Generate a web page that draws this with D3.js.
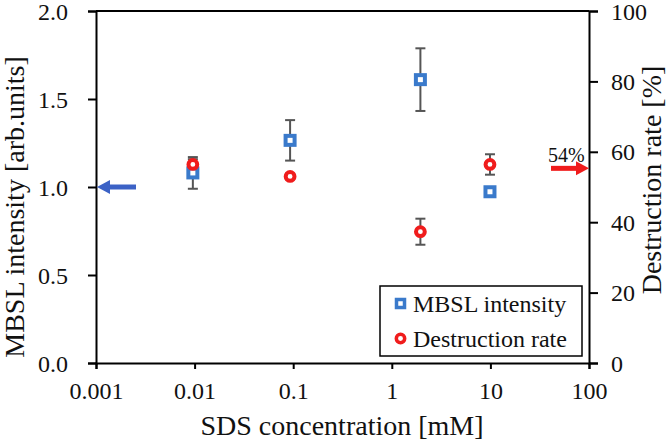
<!DOCTYPE html>
<html>
<head>
<meta charset="utf-8">
<script src="https://cdn.jsdelivr.net/npm/d3@7"></script>
<style>
  html, body { margin: 0; padding: 0; background: #fff; }
  svg { display: block; }
</style>
</head>
<body>
<svg id="chart" width="670" height="442" font-family="Liberation Serif"></svg>
<script>
// ---- data ----
const concentrations = [0.0096, 0.093, 1.95, 9.9];          // SDS concentration [mM]
const mbslIntensity = [1.08, 1.265, 1.61, 0.973];           // arb.units
const mbslError = [0.09, 0.115, 0.178, 0.01];
const destructionRate = [56.4, 53.0, 37.3, 56.4];           // %
const destructionError = [1.5, 0.8, 3.7, 2.9];
const xTicks = [0.001, 0.01, 0.1, 1, 10, 100];
const xTickLabels = ["0.001", "0.01", "0.1", "1", "10", "100"];
const yLeftTicks = [0, 0.5, 1.0, 1.5, 2.0];
const yRightTicks = [0, 20, 40, 60, 80, 100];
const referenceMBSL = 1.0;
const referenceDestruction = 55.3;
const referenceLabel = "54%";
const seriesNames = ["MBSL intensity", "Destruction rate"];

// ---- layout ----
const FONT = "Liberation Serif";
const svg = d3.select("#chart");
const L = 96, R = 589, T = 11, B = 363;
const blue = "#3a7acb", red = "#f01c1c", errColor = "#555";

const x = d3.scaleLog().domain([0.001, 100]).range([L, R]);
const yL = d3.scaleLinear().domain([0, 2]).range([B, T]);
const yR = d3.scaleLinear().domain([0, 100]).range([B, T]);

// frame top line
svg.append("line").attr("x1", L).attr("x2", R).attr("y1", T).attr("y2", T)
  .attr("stroke", "#000").attr("stroke-width", 2);

function styleAxis(g) {
  g.attr("font-family", FONT).attr("font-size", 24);
  g.select(".domain").attr("stroke", "#000").attr("stroke-width", 2);
  g.selectAll(".tick line").attr("stroke", "#000").attr("stroke-width", 2);
  g.selectAll(".tick text").attr("font-size", 24).attr("fill", "#111")
    .attr("font-family", FONT);
}

const gx = svg.append("g").attr("transform", `translate(0,${B})`)
  .call(d3.axisBottom(x).tickValues(xTicks)
    .tickFormat((d, i) => xTickLabels[i]).tickSizeOuter(0).tickSize(6).tickPadding(12));
styleAxis(gx);
gx.selectAll(".tick text").attr("dy", 0).attr("y", 36);

const gyl = svg.append("g").attr("transform", `translate(${L},0)`)
  .call(d3.axisLeft(yL).tickValues(yLeftTicks).tickFormat(d3.format(".1f"))
    .tickSizeOuter(0).tickSize(8).tickPadding(20));
styleAxis(gyl);
gyl.selectAll(".tick text").attr("dy", "0.34em").attr("x", -28);

const gyr = svg.append("g").attr("transform", `translate(${R},0)`)
  .call(d3.axisRight(yR).tickValues(yRightTicks).tickFormat(d3.format("d"))
    .tickSizeOuter(0).tickSize(9).tickPadding(14));
styleAxis(gyr);
gyr.selectAll(".tick text").attr("dy", "0.34em").attr("x", 22);

// axis titles
function txt(sel) { return sel.attr("font-family", FONT).attr("fill", "#111"); }
txt(svg.append("text")).attr("x", 342).attr("y", 435).attr("text-anchor", "middle")
  .attr("font-size", 28).text("SDS concentration [mM]");
txt(svg.append("text")).attr("transform", "translate(24,207) rotate(-90)")
  .attr("text-anchor", "middle").attr("font-size", 28).text("MBSL intensity [arb.units]");
txt(svg.append("text")).attr("transform", "translate(661,180) rotate(-90)")
  .attr("text-anchor", "middle").attr("font-size", 28).text("Destruction rate [%]");

// error bars
function errorBars(vals, errs, scale) {
  const g = svg.append("g");
  concentrations.forEach((c, i) => {
    const cx = x(c), y1 = scale(vals[i] + errs[i]), y2 = scale(vals[i] - errs[i]);
    g.append("line").attr("x1", cx).attr("x2", cx).attr("y1", y1).attr("y2", y2)
      .attr("stroke", errColor).attr("stroke-width", 2);
    [y1, y2].forEach(yy => g.append("line").attr("x1", cx - 5).attr("x2", cx + 5)
      .attr("y1", yy).attr("y2", yy).attr("stroke", errColor).attr("stroke-width", 2));
  });
}
errorBars(destructionRate, destructionError, yR);
errorBars(mbslIntensity, mbslError, yL);

// markers
svg.append("g").selectAll("rect").data(concentrations).join("rect")
  .attr("x", (d) => x(d) - 4.5).attr("y", (d, i) => yL(mbslIntensity[i]) - 4.5)
  .attr("width", 9).attr("height", 9)
  .attr("fill", "#fff").attr("stroke", blue).attr("stroke-width", 4);
svg.append("g").selectAll("circle").data(concentrations).join("circle")
  .attr("cx", (d) => x(d)).attr("cy", (d, i) => yR(destructionRate[i]))
  .attr("r", 4.4).attr("fill", "#fff").attr("stroke", red).attr("stroke-width", 4);

// reference arrows
const ya = yL(referenceMBSL);
svg.append("line").attr("x1", L + 12).attr("x2", L + 40).attr("y1", ya).attr("y2", ya)
  .attr("stroke", "#3c62c6").attr("stroke-width", 5);
svg.append("path").attr("d", `M${L + 1},${ya} L${L + 14},${ya - 7} L${L + 14},${ya + 7} Z`)
  .attr("fill", "#3c62c6");

const yb = yR(referenceDestruction);
svg.append("line").attr("x1", R - 38).attr("x2", R - 12).attr("y1", yb).attr("y2", yb)
  .attr("stroke", red).attr("stroke-width", 5);
svg.append("path").attr("d", `M${R},${yb} L${R - 13},${yb - 7} L${R - 13},${yb + 7} Z`)
  .attr("fill", red);
txt(svg.append("text")).attr("x", R - 41).attr("y", yb - 6.5).attr("font-size", 20)
  .text(referenceLabel);

// legend
const lg = svg.append("g");
lg.append("rect").attr("x", 380).attr("y", 286).attr("width", 202).attr("height", 70)
  .attr("fill", "#fff").attr("stroke", "#000").attr("stroke-width", 1.5);
lg.append("rect").attr("x", 400.5 - 4).attr("y", 303.5 - 4).attr("width", 8).attr("height", 8)
  .attr("fill", "#fff").attr("stroke", blue).attr("stroke-width", 3.5);
lg.append("circle").attr("cx", 400.5).attr("cy", 338.5).attr("r", 4.2)
  .attr("fill", "#fff").attr("stroke", red).attr("stroke-width", 3.5);
txt(lg.append("text")).attr("x", 413).attr("y", 311.7).attr("font-size", 24).text(seriesNames[0]);
txt(lg.append("text")).attr("x", 413).attr("y", 346.7).attr("font-size", 24).text(seriesNames[1]);
</script>
</body>
</html>
